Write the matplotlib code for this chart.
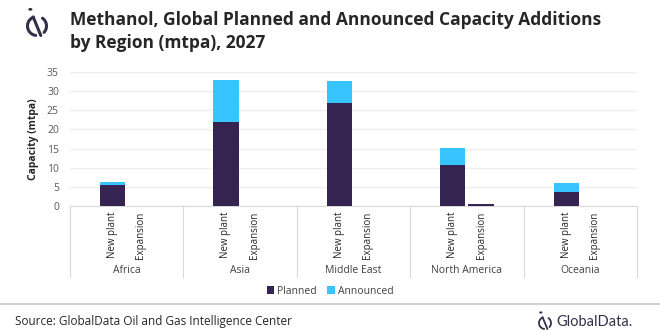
import numpy as np
import matplotlib
matplotlib.use('Agg')
import matplotlib.pyplot as plt
from matplotlib.patches import Circle
from matplotlib.lines import Line2D
import matplotlib.transforms as mtrans

# data (mtpa)
regions = ['Africa', 'Asia', 'Middle East', 'North America', 'Oceania']
subcats = ['New plant', 'Expansion']
planned_new = [5.3, 22.0, 27.0, 10.6, 3.5]
announced_new = [1.0, 11.0, 5.7, 4.5, 2.4]
planned_exp = [0.0, 0.0, 0.0, 0.35, 0.0]
announced_exp = [0.0, 0.0, 0.0, 0.0, 0.0]
yticks = [0, 5, 10, 15, 20, 25, 30, 35]

c_planned = '#352452'
c_announced = '#38C4FF'
c_text = '#404040'
c_grid = '#EFEFEF'
c_logo = '#35304A'

plt.rcParams['font.family'] = ['Open Sans', 'DejaVu Sans']

fig = plt.figure(figsize=(6.6, 3.3), dpi=100)
ax = fig.add_axes([70/660, 124.3/330, 567/660, 133.4/330])

# 4 slots per region, first and last are blank
xs_new = np.arange(len(regions))*4 + 1
xs_exp = np.arange(len(regions))*4 + 2
w = 0.89
ax.bar(xs_new, planned_new, w, color=c_planned, label='Planned', zorder=3)
ax.bar(xs_new, announced_new, w, bottom=planned_new, color=c_announced,
       label='Announced', zorder=3)
ax.bar(xs_exp, planned_exp, w, color=c_planned, zorder=3)
ax.bar(xs_exp, announced_exp, w, bottom=planned_exp, color=c_announced, zorder=3)

ax.set_xlim(-0.5, len(regions)*4 - 0.5)
ax.set_ylim(0, 35)
ax.set_yticks(yticks)
ax.yaxis.grid(True, color=c_grid, lw=1, zorder=0)
for s in ['top', 'right', 'left']:
  ax.spines[s].set_visible(False)
ax.spines['bottom'].set_color('#D9D9D9')
ax.tick_params(axis='y', length=0, labelsize=7.5, labelcolor='#595959', pad=8)

ticks = np.concatenate([xs_new, xs_exp])
labs = [subcats[0]]*len(regions) + [subcats[1]]*len(regions)
ax.set_xticks(ticks)
ax.set_xticklabels(labs, rotation=90, va='top', ha='center', fontsize=7,
  color='#262626')
ax.tick_params(axis='x', length=0, pad=4)

tr = mtrans.blended_transform_factory(ax.transData, ax.transAxes)
for i, r in enumerate(regions):
  ax.text(i*4 + 1.5, -0.487, r, transform=tr, ha='center', va='center',
    fontsize=7.5, color=c_text)
for i in range(len(regions) + 1):
  ax.add_line(Line2D([i*4 - 0.5]*2, [0, -0.532], transform=tr, color='#D9D9D9',
    lw=0.8, clip_on=False))

ax.set_ylabel('Capacity (mtpa)', fontsize=7.5, fontweight='bold', color='#262626',
  labelpad=6)

leg = fig.legend(loc='center', bbox_to_anchor=(330/660, 1 - 291/330), ncol=2,
  frameon=False, fontsize=7.5, handlelength=0.7, handleheight=0.7,
  handletextpad=0.3, columnspacing=1.0, labelcolor=c_text)

fig.text(70/660, 1 - 20/330, 'Methanol, Global Planned and Announced Capacity Additions',
  fontsize=12.5, fontweight='bold', color='#262626', va='center')
fig.text(70/660, 1 - 43/330, 'by Region (mtpa), 2027',
  fontsize=12.5, fontweight='bold', color='#262626', va='center')

# GlobalData logo: split circle, slash and dot (pixel coords, y down)
def px(x, y):
  return np.asarray(x)/660, 1 - np.asarray(y)/330

def logo(cx, cy, r, lw):
  for t1, t2 in [(112, 262), (-42, 55)]:
    t = np.radians(np.linspace(t1, t2, 40))
    x, y = px(cx + r*np.cos(t), cy - r*np.sin(t))
    fig.lines.append(Line2D(x, y, transform=fig.transFigure, color=c_logo,
      lw=lw, solid_capstyle='round'))
  x, y = px([cx - 0.4*r, cx + 0.4*r], [cy - 0.95*r, cy + 1.0*r])
  fig.lines.append(Line2D(x, y, transform=fig.transFigure, color=c_logo, lw=lw,
    solid_capstyle='round'))
  fig.patches.append(Circle(px(cx - 0.7*r, cy - 1.75*r), r*0.14/660,
    transform=fig.transFigure, color=c_logo))
logo(37, 26, 9.5, 2.2)

fig.lines.append(Line2D([0, 1], [1 - 303.5/330]*2, transform=fig.transFigure,
  color='#C8C8C8', lw=1.2))
fig.text(15/660, 1 - 322/330, 'Source: GlobalData Oil and Gas Intelligence Center',
  fontsize=8.5, color='#262626', va='center')
logo(545, 323, 6, 1.3)
fig.text(556/660, 1 - 322/330, 'GlobalData.', fontsize=10.5, color=c_logo,
  va='center', family=['Lato', 'DejaVu Sans'])

fig.savefig('out.png', dpi=100)
